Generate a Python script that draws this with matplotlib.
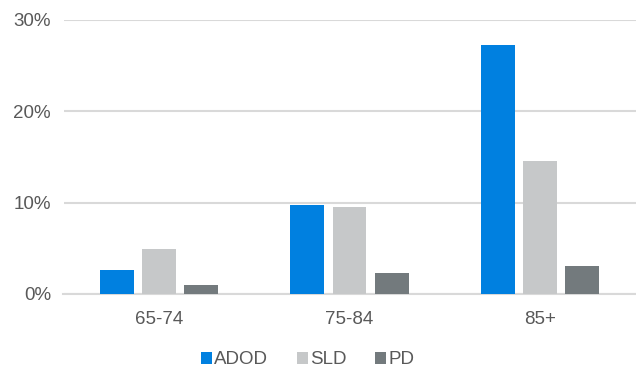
import numpy as np
import matplotlib.pyplot as plt
from matplotlib.ticker import FuncFormatter, MultipleLocator

# data
categories = ['65-74', '75-84', '85+']
series_names = ['ADOD', 'SLD', 'PD']
adod = [2.6, 9.7, 27.3]
sld = [4.9, 9.5, 14.6]
pd_vals = [1.0, 2.35, 3.1]
colors = ['#0080E0', '#C6C8C9', '#737A7D']

plt.rcParams['font.family'] = ['Liberation Sans', 'DejaVu Sans']

fig = plt.figure(figsize=(6.36, 3.69), dpi=100)
ax = fig.add_axes([63.5 / 636, 1 - 294 / 369, 572 / 636, 274 / 369])

x = np.arange(len(categories))
width = 0.177
step = 0.221
for i, (name, vals) in enumerate(zip(series_names, [adod, sld, pd_vals])):
    ax.bar(x + (i - 1) * step, vals, width, color=colors[i], label=name, zorder=3)

ax.set_xlim(-0.5, 2.5)
ax.set_ylim(0, 30)
ax.yaxis.set_major_locator(MultipleLocator(10))
ax.yaxis.set_major_formatter(FuncFormatter(lambda v, p: '%d%%' % v))
ax.set_xticks(x)
ax.set_xticklabels(categories)

ax.grid(axis='y', color='#d9d9d9', linewidth=1.5, zorder=0)
for s in ['top', 'right', 'left']:
    ax.spines[s].set_visible(False)
ax.spines['bottom'].set_color('#d9d9d9')
ax.spines['bottom'].set_linewidth(1.5)
ax.tick_params(axis='both', length=0, labelsize=13.5, colors='#595959')
ax.tick_params(axis='y', pad=9)
ax.tick_params(axis='x', pad=12)

# legend sits centred on the figure, not the axes
fig.legend(*ax.get_legend_handles_labels(), loc='center',
           bbox_to_anchor=(307.5 / 636, 1 - 360 / 369), ncol=3, frameon=False,
           fontsize=13.5, labelcolor='#595959', handlelength=0.6, handleheight=0.6,
           handletextpad=0.12, columnspacing=1.5)

plt.savefig('out.png', dpi=100)
